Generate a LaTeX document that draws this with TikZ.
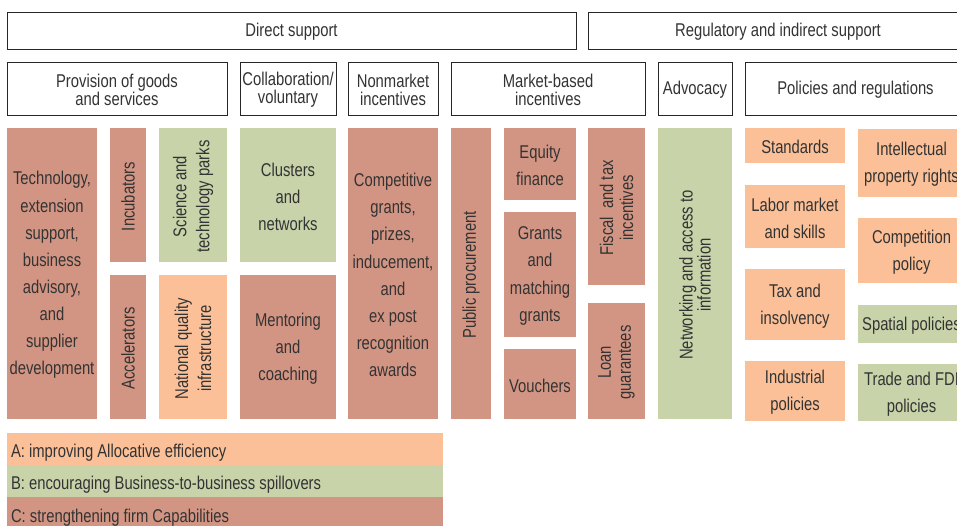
\documentclass[tikz,border=0pt]{standalone}
\usepackage{fontspec}
\setmainfont[FakeStretch=0.80]{Liberation Sans}
\definecolor{cred}{HTML}{D39583}
\definecolor{cgreen}{HTML}{C8D3AA}
\definecolor{cpeach}{HTML}{FBC098}
\definecolor{ctext}{HTML}{333333}
% box node #1 with style #2 from (#4,#5) to (#6,#7); its text #8 as node #1t with style #3
\newcommand\bx[8]{\node[#2, minimum width={(#6-#4)*1pt}, minimum height={(#7-#5)*1pt}] (#1) at ({(#4+#6)/2},{(#5+#7)/2}) {};
  \node[#3] (#1t) at ([yshift=-1.5pt]#1.center) {#8};}
\tikzset{
  hdr/.style={draw=black!85, line width=0.9pt, fill=white, inner sep=0pt},
  hdrt/.style={align=center, inner sep=0pt, text=ctext, font=\fontsize{18.5}{18}\selectfont},
  cbox/.style={inner sep=0pt},
  cboxt/.style={align=center, inner sep=0pt, text=ctext, font=\fontsize{18.5}{27.1}\selectfont},
  rtxt/.style={rotate=90, align=center, inner sep=0pt, text=ctext, font=\fontsize{18.5}{#1}\selectfont},
  rtxt/.default=21,
  legtxt/.style={anchor=west, inner sep=0pt, text=ctext, font=\fontsize{18.5}{18}\selectfont}
}
\begin{document}
\begin{tikzpicture}[x=1pt,y=-1pt]
\clip (0,0) rectangle (957,525);
\fill[white] (0,0) rectangle (957,525);
% top level
\bx{ds}{hdr}{hdrt}{7}{12}{576}{49}{Direct support}
\bx{ris}{hdr}{hdrt}{588}{12}{968}{49}{Regulatory and indirect support}
% second level
\bx{prov}{hdr}{hdrt}{7}{62}{227}{115}{Provision of goods\\and services}
\bx{collab}{hdr}{hdrt}{240}{62}{336}{115}{Collaboration/\\voluntary}
\bx{nonm}{hdr}{hdrt}{348}{62}{438}{115}{Nonmarket\\incentives}
\bx{mkt}{hdr}{hdrt}{451}{62}{645}{115}{Market-based\\incentives}
\bx{adv}{hdr}{hdrt}{658}{62}{732}{115}{Advocacy}
\bx{pol}{hdr}{hdrt}{745}{62}{966}{115}{Policies and regulations}
% instruments
\bx{tech}{cbox,fill=cred}{cboxt}{7}{128}{97}{419}{Technology,\\extension\\support,\\business\\advisory,\\and\\supplier\\development}
\bx{incub}{cbox,fill=cred}{rtxt}{110}{128}{146}{262}{Incubators}
\bx{accel}{cbox,fill=cred}{rtxt}{110}{275}{146}{419}{Accelerators}
\bx{stp}{cbox,fill=cgreen}{rtxt=23}{159}{128}{227}{262}{Science and\\technology parks}
\bx{nqi}{cbox,fill=cpeach}{rtxt=23}{159}{275}{227}{419}{National quality\\infrastructure}
\bx{clus}{cbox,fill=cgreen}{cboxt}{240}{128}{336}{262}{Clusters\\and\\networks}
\bx{ment}{cbox,fill=cred}{cboxt}{240}{275}{336}{419}{Mentoring\\and\\coaching}
\bx{comp}{cbox,fill=cred}{cboxt}{348}{128}{438}{419}{Competitive\\grants,\\prizes,\\inducement,\\and\\ex post\\recognition\\awards}
\bx{pp}{cbox,fill=cred}{rtxt}{451}{128}{491}{419}{Public procurement}
\bx{eq}{cbox,fill=cred}{cboxt}{504}{128}{576}{200}{Equity\\finance}
\bx{gmg}{cbox,fill=cred}{cboxt}{504}{212}{576}{337}{Grants\\and\\matching\\grants}
\bx{vou}{cbox,fill=cred}{cboxt}{504}{349}{576}{419}{Vouchers}
\bx{fis}{cbox,fill=cred}{rtxt=20}{588}{128}{645}{285}{Fiscal\ \ and tax\\incentives}
\bx{loan}{cbox,fill=cred}{rtxt=20}{588}{303}{645}{419}{Loan\\guarantees}
\bx{net}{cbox,fill=cgreen}{rtxt=17}{658}{128}{732}{419}{Networking and access to\\information}
\bx{std}{cbox,fill=cpeach}{cboxt}{745}{128}{845}{163}{Standards}
\bx{lab}{cbox,fill=cpeach}{cboxt}{745}{185}{845}{248}{Labor market\\and skills}
\bx{tax}{cbox,fill=cpeach}{cboxt}{745}{269}{845}{340}{Tax and\\insolvency}
\bx{ind}{cbox,fill=cpeach}{cboxt}{745}{361}{845}{421}{Industrial\\policies}
\bx{ipr}{cbox,fill=cpeach}{cboxt}{858}{129}{965}{197}{Intellectual\\property rights}
\bx{cpol}{cbox,fill=cpeach}{cboxt}{858}{218}{965}{283}{Competition\\policy}
\bx{spa}{cbox,fill=cgreen}{cboxt}{858}{305}{965}{343}{Spatial policies}
\bx{trade}{cbox,fill=cgreen}{cboxt}{858}{364}{965}{421}{Trade and FDI\\policies}
% legend
\bx{la}{cbox,fill=cpeach}{legtxt}{7}{433}{443}{465}{}
\bx{lb}{cbox,fill=cgreen}{legtxt}{7}{465}{443}{497}{}
\bx{lc}{cbox,fill=cred}{legtxt}{7}{497}{443}{529}{}
\node[legtxt] (lat2) at ([xshift=4pt,yshift=-4pt]la.west) {A: improving Allocative efficiency};
\node[legtxt] (lbt2) at ([xshift=4pt,yshift=-4pt]lb.west) {B: encouraging Business-to-business spillovers};
\node[legtxt] (lct2) at ([xshift=4pt,yshift=-4.5pt]lc.west) {C: strengthening firm Capabilities};
\end{tikzpicture}
\end{document}
